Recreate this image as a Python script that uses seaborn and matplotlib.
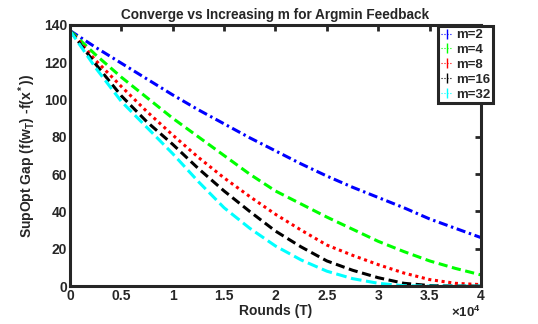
import numpy as np
import pandas as pd
import matplotlib
matplotlib.use("Agg")
import matplotlib.pyplot as plt
import seaborn as sns
from matplotlib.lines import Line2D

# Dữ liệu (x theo đơn vị 1e4 vòng)
rounds = [0, 0.25, 0.5, 0.75, 1, 1.25, 1.5, 1.75, 2, 2.25, 2.5, 2.75, 3, 3.25, 3.5, 3.75, 4]
gap_m2 = [137, 128, 119.5, 111, 102.5, 94.5, 87, 79.5, 72.5, 65.5, 59, 53, 47.5, 42, 36, 31, 26]
gap_m4 = [137, 124, 112, 101, 90, 80, 70, 60, 51, 44, 37, 30.5, 24, 18.5, 13.5, 9.5, 6]
gap_m8 = [137, 121, 107, 93.5, 81, 69, 58, 48, 38.5, 30, 22, 16.5, 11.5, 7, 3.5, 1.5, 0.8]
gap_m16 = [137, 119, 102, 88, 76, 63, 51, 40, 29.5, 21, 13.5, 8.5, 4.5, 1.5, 0.3, 0, 0]
gap_m32 = [137, 117, 99, 85, 71, 56, 42, 31, 21.5, 14, 8, 4, 1.5, 0.2, 0, 0, 0]
labels = ["m=2", "m=4", "m=8", "m=16", "m=32"]

series = [gap_m2, gap_m4, gap_m8, gap_m16, gap_m32]
df = pd.concat(
    [pd.DataFrame({"T": np.array(rounds) * 1e4, "gap": s, "m": lab}) for s, lab in zip(series, labels)]
)

colors = {"m=2": "#0000ff", "m=4": "#00ff00", "m=8": "#ff0000", "m=16": "#000000", "m=32": "#00ffff"}
dashes = {"m=2": (3, 1.2, 0.8, 1.2), "m=4": (3, 1.5), "m=8": (1, 1.2), "m=16": (3, 1.5), "m=32": (3.5, 1.5)}

sns.set_style("white")
plt.rcParams["font.family"] = ["Liberation Sans", "DejaVu Sans"]
plt.rcParams["font.weight"] = "bold"
plt.rcParams["mathtext.fontset"] = "custom"
plt.rcParams["mathtext.rm"] = "Liberation Sans:bold"
plt.rcParams["mathtext.it"] = "Liberation Sans:bold"
plt.rcParams["mathtext.bf"] = "Liberation Sans:bold"

fig = plt.figure(figsize=(5.38, 3.24), dpi=100)
ax = fig.add_axes([0.130, 0.117, 0.764, 0.806])

sns.lineplot(data=df, x="T", y="gap", hue="m", style="m", palette=colors, dashes=dashes,
             linewidth=2.2, legend=False, ax=ax)

ax.set_xlim(0, 4e4)
ax.set_ylim(0, 140)
ax.set_xticks(np.arange(0, 4.01e4, 0.5e4))
ax.set_xticklabels(["0", "0.5", "1", "1.5", "2", "2.5", "3", "3.5", "4"])
ax.set_yticks(range(0, 141, 20))
ax.tick_params(direction="in", length=4, width=2, colors="#262626", labelsize=10,
               top=True, right=True, pad=2)
for lab in ax.get_xticklabels() + ax.get_yticklabels():
    lab.set_fontweight("bold")
for sp in ax.spines.values():
    sp.set_linewidth(2.2)
    sp.set_color("#262626")

ax.set_title("Converge vs Increasing m for Argmin Feedback", fontsize=9.8, fontweight="bold", pad=4)
ax.set_xlabel("Rounds (T)", fontsize=10, fontweight="bold", color="#262626", labelpad=1)
ax.set_ylabel(r"SupOpt Gap (f(w$_T$) -f(x$^*$))", fontsize=10, fontweight="bold", color="#262626",
              labelpad=4)
ax.text(1.0, -0.07, r"$\times$10$^4$", transform=ax.transAxes, ha="right", va="top",
        fontsize=9.5, color="#262626")

handles = [Line2D([0], [0], color=colors[l], lw=0.8, ls=":", marker="|", markersize=7) for l in labels]
leg = ax.legend(handles, labels, loc="upper right", bbox_to_anchor=(1.03, 0.995), fontsize=9.5,
                handlelength=0.9, handletextpad=0.3, borderpad=0.2, labelspacing=0.2,
                borderaxespad=0.0, frameon=True, fancybox=False, framealpha=1)
leg.get_frame().set_edgecolor("#262626")
leg.get_frame().set_linewidth(2.2)
for t in leg.get_texts():
    t.set_fontweight("bold")

fig.savefig("out.png", dpi=100)
